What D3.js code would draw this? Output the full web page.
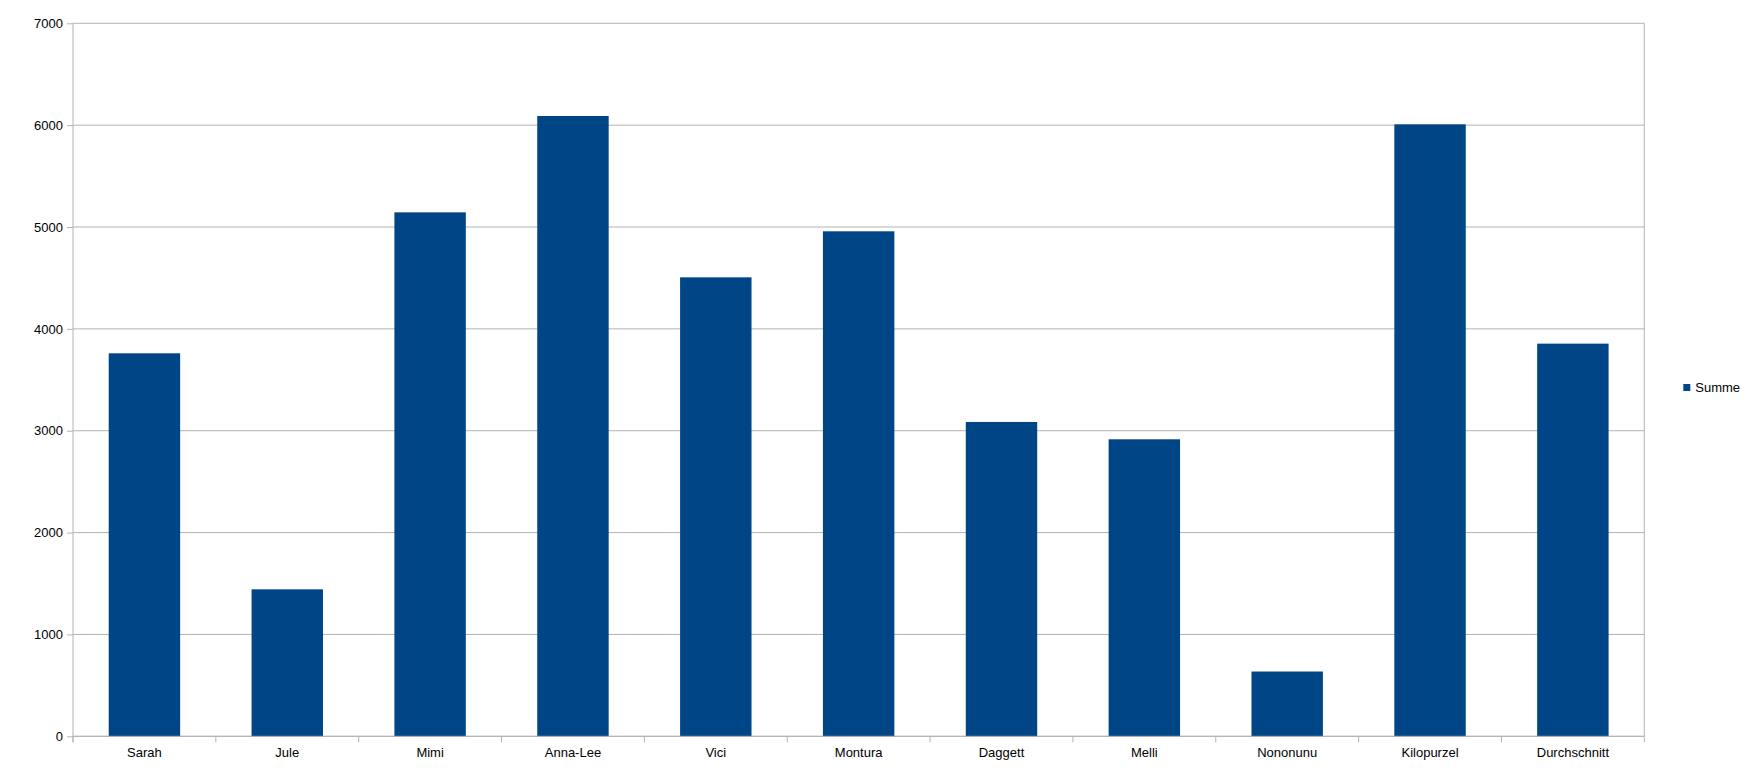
<!DOCTYPE html>
<html>
<head>
<meta charset="utf-8">
<script src="https://cdn.jsdelivr.net/npm/d3@7"></script>
<style>
	body { margin: 0; background: #fff; }
	text { font-family: "Liberation Sans", Arial, sans-serif; font-size: 13px; fill: #000; }
</style>
</head>
<body>
<div id="chart"></div>
<script>
// chart data
const names = ["Sarah", "Jule", "Mimi", "Anna-Lee", "Vici", "Montura", "Daggett", "Melli", "Nononunu", "Kilopurzel", "Durchschnitt"];
const summe = [3760, 1443, 5144, 6090, 4506, 4958, 3086, 2916, 636, 6008, 3855];
const yTicks = [0, 1000, 2000, 3000, 4000, 5000, 6000, 7000];
const seriesName = "Summe";

const fullWidth = 1752, fullHeight = 776;
const margin = { top: 23.3, right: 107.7, bottom: 39.7, left: 73 };
const width = fullWidth - margin.left - margin.right;
const height = fullHeight - margin.top - margin.bottom;
const barColor = "#004586";
const gridColor = "#b3b3b3";

const svg = d3.select("#chart").append("svg")
	.attr("width", fullWidth)
	.attr("height", fullHeight);

const g = svg.append("g")
	.attr("transform", "translate(" + margin.left + "," + margin.top + ")");

// scales
const x = d3.scaleBand().domain(names).range([0, width]).paddingInner(0.5).paddingOuter(0.25);
const y = d3.scaleLinear().domain([0, 7000]).range([height, 0]);

// horizontal grid lines
g.selectAll(".grid")
	.data(yTicks)
	.enter().append("line")
	.attr("x1", 0)
	.attr("x2", width)
	.attr("y1", d => y(d))
	.attr("y2", d => y(d))
	.attr("stroke", gridColor)
	.attr("stroke-width", 1);

// right border of plot area
g.append("line")
	.attr("x1", width).attr("x2", width)
	.attr("y1", 0).attr("y2", height)
	.attr("stroke", gridColor);

// bars
g.selectAll(".bar")
	.data(names)
	.enter().append("rect")
	.attr("x", d => x(d))
	.attr("width", x.bandwidth())
	.attr("y", (d, i) => y(summe[i]))
	.attr("height", (d, i) => height - y(summe[i]))
	.attr("fill", barColor);

// y axis
const yAxis = g.append("g")
	.call(d3.axisLeft(y).tickValues(yTicks).tickSize(6).tickPadding(4).tickFormat(d3.format("d")));
yAxis.select(".domain").attr("stroke", gridColor).attr("d", "M0," + (height + 6) + "V0");
yAxis.selectAll(".tick line").attr("stroke", gridColor);
yAxis.selectAll("text").attr("font-size", null).attr("font-family", null);

// x axis: ticks sit between categories
const step = x.step();
const xAxis = g.append("g").attr("transform", "translate(0," + height + ")");
xAxis.append("line")
	.attr("x1", 0).attr("x2", width)
	.attr("stroke", gridColor);
xAxis.selectAll(".sep")
	.data(d3.range(names.length + 1))
	.enter().append("line")
	.attr("x1", i => i * step)
	.attr("x2", i => i * step)
	.attr("y1", 0)
	.attr("y2", 6)
	.attr("stroke", gridColor);
xAxis.selectAll(".lbl")
	.data(names)
	.enter().append("text")
	.attr("x", d => x(d) + x.bandwidth() / 2)
	.attr("y", 21)
	.attr("text-anchor", "middle")
	.text(d => d);

// legend
const legend = svg.append("g")
	.attr("transform", "translate(1683.3,384)");
legend.append("rect")
	.attr("width", 7)
	.attr("height", 7)
	.attr("fill", barColor);
legend.append("text")
	.attr("x", 12)
	.attr("y", 3.5)
	.attr("dy", "0.35em")
	.text(seriesName);
</script>
</body>
</html>
